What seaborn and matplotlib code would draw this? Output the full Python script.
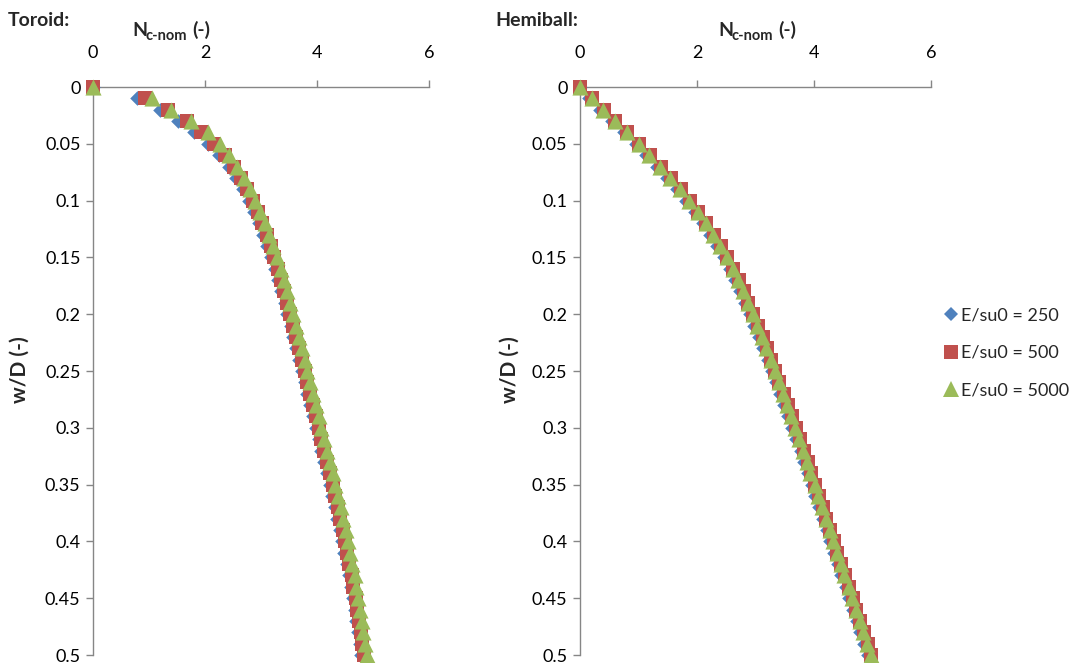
import matplotlib
matplotlib.use("Agg")
import matplotlib.pyplot as plt
import seaborn as sns
import pandas as pd
from matplotlib.lines import Line2D

# ---------------- data ----------------
w_d = [0.00, 0.01, 0.02, 0.03, 0.04, 0.05, 0.06, 0.07, 0.08, 0.09,
       0.10, 0.11, 0.12, 0.13, 0.14, 0.15, 0.16, 0.17, 0.18, 0.19,
       0.20, 0.21, 0.22, 0.23, 0.24, 0.25, 0.26, 0.27, 0.28, 0.29,
       0.30, 0.31, 0.32, 0.33, 0.34, 0.35, 0.36, 0.37, 0.38, 0.39,
       0.40, 0.41, 0.42, 0.43, 0.44, 0.45, 0.46, 0.47, 0.48, 0.49, 0.50]

toroid_250 = [0, 0.78, 1.20, 1.52, 1.80, 2.05, 2.25, 2.42, 2.56, 2.68,
              2.78, 2.88, 2.96, 3.04, 3.11, 3.18, 3.25, 3.31, 3.36, 3.42,
              3.47, 3.53, 3.58, 3.63, 3.68, 3.73, 3.78, 3.83, 3.88, 3.93,
              3.98, 4.03, 4.08, 4.13, 4.18, 4.23, 4.27, 4.32, 4.36, 4.41,
              4.45, 4.49, 4.53, 4.57, 4.60, 4.64, 4.67, 4.70, 4.73, 4.76, 4.79]
toroid_500 = [0, 0.93, 1.34, 1.68, 1.93, 2.16, 2.36, 2.51, 2.64, 2.75,
              2.85, 2.94, 3.02, 3.10, 3.17, 3.24, 3.30, 3.36, 3.41, 3.47,
              3.52, 3.57, 3.63, 3.68, 3.73, 3.78, 3.83, 3.88, 3.93, 3.98,
              4.03, 4.08, 4.13, 4.18, 4.23, 4.28, 4.32, 4.37, 4.41, 4.46,
              4.50, 4.54, 4.58, 4.62, 4.65, 4.69, 4.72, 4.75, 4.78, 4.81, 4.84]
toroid_5000 = [0, 1.05, 1.40, 1.75, 2.05, 2.26, 2.43, 2.57, 2.70, 2.80,
               2.90, 2.99, 3.07, 3.15, 3.22, 3.29, 3.35, 3.41, 3.46, 3.52,
               3.57, 3.62, 3.68, 3.73, 3.78, 3.83, 3.88, 3.93, 3.98, 4.03,
               4.08, 4.13, 4.18, 4.23, 4.28, 4.33, 4.37, 4.42, 4.46, 4.51,
               4.55, 4.59, 4.63, 4.67, 4.70, 4.74, 4.77, 4.80, 4.83, 4.86, 4.89]

hemi_250 = [0, 0.15, 0.35, 0.54, 0.75, 0.95, 1.13, 1.32, 1.49, 1.66,
            1.82, 1.96, 2.10, 2.23, 2.35, 2.46, 2.56, 2.65, 2.74, 2.82,
            2.90, 2.98, 3.06, 3.13, 3.21, 3.28, 3.35, 3.42, 3.49, 3.56,
            3.63, 3.70, 3.77, 3.83, 3.89, 3.96, 4.02, 4.09, 4.15, 4.22,
            4.28, 4.34, 4.41, 4.47, 4.54, 4.60, 4.66, 4.73, 4.79, 4.86, 4.92]
hemi_500 = [0, 0.21, 0.41, 0.60, 0.81, 1.01, 1.19, 1.38, 1.55, 1.72,
            1.88, 2.02, 2.16, 2.29, 2.41, 2.52, 2.62, 2.71, 2.80, 2.88,
            2.96, 3.04, 3.12, 3.19, 3.27, 3.34, 3.41, 3.48, 3.55, 3.62,
            3.69, 3.76, 3.83, 3.89, 3.95, 4.02, 4.08, 4.15, 4.21, 4.28,
            4.34, 4.40, 4.47, 4.53, 4.60, 4.66, 4.72, 4.79, 4.85, 4.92, 4.98]
hemi_5000 = [0, 0.20, 0.40, 0.59, 0.80, 1.00, 1.18, 1.37, 1.54, 1.71,
             1.87, 2.01, 2.15, 2.28, 2.40, 2.51, 2.61, 2.70, 2.79, 2.87,
             2.95, 3.03, 3.11, 3.18, 3.26, 3.33, 3.40, 3.47, 3.54, 3.61,
             3.68, 3.75, 3.82, 3.88, 3.94, 4.01, 4.07, 4.14, 4.20, 4.27,
             4.33, 4.39, 4.46, 4.52, 4.59, 4.65, 4.71, 4.78, 4.84, 4.91, 4.97]

series_labels = ["E/su0 = 250", "E/su0 = 500", "E/su0 = 5000"]
x_ticks = [0, 2, 4, 6]
y_ticks = [0, 0.05, 0.1, 0.15, 0.2, 0.25, 0.3, 0.35, 0.4, 0.45, 0.5]
panel_titles = ["Toroid:", "Hemiball:"]
x_label_main = "N"
x_label_sub = "c-nom"
x_label_tail = "(-)"
y_label = "w/D (-)"

# ---------------- style ----------------
sns.set_theme(style="white")
plt.rcParams["font.family"] = ["Lato", "DejaVu Sans"]

colors = ["#4F81BD", "#C0504D", "#9BBB59"]
markers = ["D", "s", "^"]
sizes = [55, 90, 135]
axis_col = "#868686"

W, H = 1076, 663
fig = plt.figure(figsize=(W / 100, H / 100), dpi=100)

def px_axes(x0, x1, y0, y1):
    return fig.add_axes([x0 / W, 1 - y1 / H, (x1 - x0) / W, (y1 - y0) / H])

ax_l = px_axes(93, 429, 87, 655)
ax_r = px_axes(580, 931, 87, 655)

panels = [
    (ax_l, [toroid_250, toroid_500, toroid_5000]),
    (ax_r, [hemi_250, hemi_500, hemi_5000]),
]

for ax, data in panels:
    frames = []
    for lab, vals in zip(series_labels, data):
        frames.append(pd.DataFrame({"N": vals, "w": w_d, "series": lab}))
    df = pd.concat(frames, ignore_index=True)
    for lab, col, mk, s in zip(series_labels, colors, markers, sizes):
        sub = df[df["series"] == lab]
        sns.scatterplot(data=sub, x="N", y="w", ax=ax, color=col, marker=mk,
                        s=s, linewidth=0, clip_on=False, legend=False, zorder=3)
    ax.set_xlim(0, 6)
    ax.set_ylim(0.5, 0)
    ax.set_xticks(x_ticks)
    ax.set_xticklabels([f"{v:g}" for v in x_ticks])
    ax.set_yticks(y_ticks)
    ax.set_yticklabels([f"{v:g}" for v in y_ticks])
    ax.xaxis.tick_top()
    ax.set_xlabel("")
    ax.set_ylabel("")
    for sp in ["bottom", "right"]:
        ax.spines[sp].set_visible(False)
    for sp in ["top", "left"]:
        ax.spines[sp].set_color(axis_col)
        ax.spines[sp].set_linewidth(1.0)
    ax.tick_params(axis="both", which="major", direction="out", length=5,
                   width=1.0, color=axis_col, labelsize=13, labelcolor="black")
    ax.tick_params(axis="x", top=True, bottom=False, labeltop=True,
                   labelbottom=False, pad=14)
    ax.tick_params(axis="y", left=True, right=False, pad=4)
    ax.grid(False)
    ax.set_facecolor("none")

# titles
fig.text(8 / W, 1 - 20 / H, panel_titles[0], fontsize=14, fontweight="bold",
         ha="left", va="center")
fig.text(495 / W, 1 - 20 / H, panel_titles[1], fontsize=14, fontweight="bold",
         ha="left", va="center")

# x axis labels (N with subscript)
def x_label(x_left):
    fig.text(x_left / W, 1 - 36 / H, x_label_main, fontsize=14,
             fontweight="bold", ha="left", va="baseline")
    fig.text((x_left + 13) / W, 1 - 40 / H, x_label_sub, fontsize=10.5,
             fontweight="bold", ha="left", va="baseline")
    fig.text((x_left + 60) / W, 1 - 36 / H, x_label_tail, fontsize=14,
             fontweight="bold", ha="left", va="baseline")

x_label(132)
x_label(718)

# y axis labels
fig.text(20 / W, 1 - 370 / H, y_label, fontsize=15, fontweight="bold",
         rotation=90, ha="center", va="center")
fig.text(510 / W, 1 - 370 / H, y_label, fontsize=15, fontweight="bold",
         rotation=90, ha="center", va="center")

# legend
handles = [Line2D([], [], linestyle="none", marker=mk, color=c,
                  markersize=ms, markeredgewidth=0)
           for mk, c, ms in zip(markers, colors, [7.5, 10, 11.5])]
fig.legend(handles, series_labels, loc="upper left",
           bbox_to_anchor=(938 / W, 1 - 300 / H), frameon=False,
           fontsize=13, handlelength=0.6, handletextpad=0.25,
           labelspacing=1.2, borderaxespad=0)

fig.savefig("out.png", dpi=100)
